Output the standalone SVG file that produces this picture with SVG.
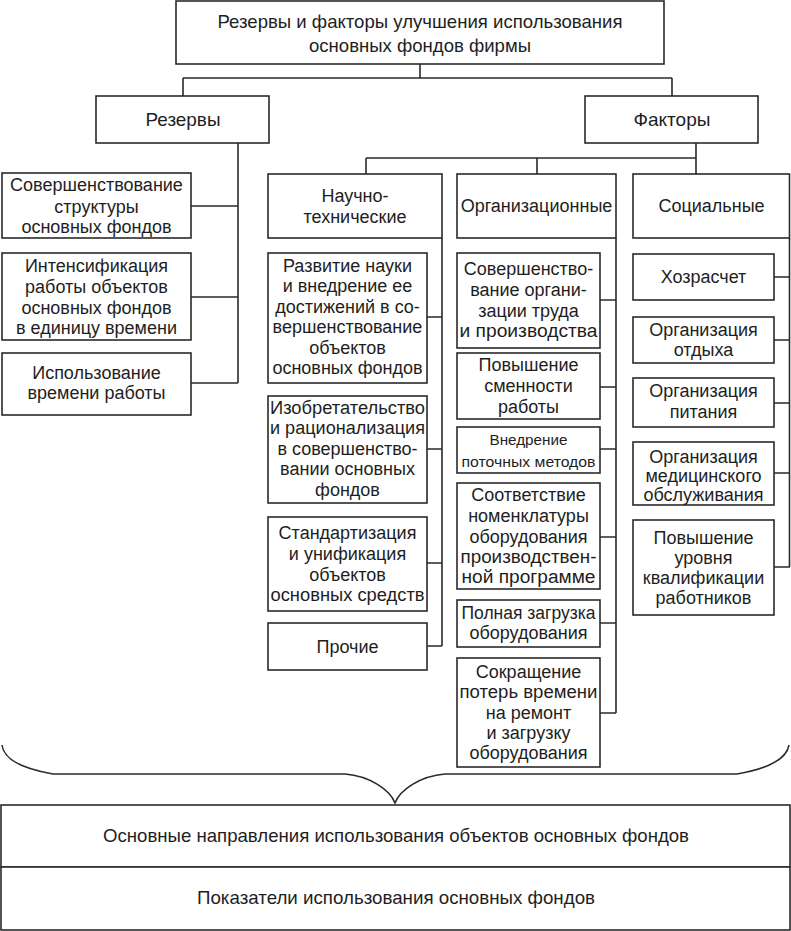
<svg xmlns="http://www.w3.org/2000/svg" width="791" height="931" viewBox="0 0 791 931">
<style>
.b{fill:#fff;stroke:#2a2a2a;stroke-width:1.6}
.l{fill:none;stroke:#2a2a2a;stroke-width:1.6}
text{font-family:"Liberation Sans",Arial,sans-serif;fill:#1e1e1e;text-anchor:middle}
.n{font-size:19px}
.t{font-size:18px}
.s{font-size:15px}
</style>
<rect width="791" height="931" fill="#fff"/>
<g id="connectors">
<path class="l" d="M420,64V78M183,78H672M183,78V96M672,78V96"/>
<path class="l" d="M238,143V383M191,206H238M191,297H238M191,383H238"/>
<path class="l" d="M696,143V158M366,158H696M366,158V174M537,158V174M696,158V174"/>
<path class="l" d="M442,238V646M427,317H442M427,449H442M427,563H442M427,646H442"/>
<path class="l" d="M616,238V713M600,300H616M600,387H616M600,449H616M600,537H616M600,623H616M600,713H616"/>
<path class="l" d="M789.5,238V567M774,277H790M774,340H790M774,403H790M774,473H790M774,567H790"/>
<path class="l" d="M2,745C4,762 30,770 53,774H345C370,776 390,790 395,803C400,790 420,776 445,774H737C760,770 786,762 789,745"/>
</g>
<g id="top"><rect class="b" x="176" y="1" width="488" height="63"/>
<text class="n" x="420" y="28" textLength="405" lengthAdjust="spacingAndGlyphs">Резервы и факторы улучшения использования</text>
<text class="n" x="420" y="52" textLength="222" lengthAdjust="spacingAndGlyphs">основных фондов фирмы</text></g>
<g id="rezervy"><rect class="b" x="96" y="96" width="173" height="47"/>
<text class="n" x="183" y="126" textLength="75" lengthAdjust="spacingAndGlyphs">Резервы</text></g>
<g id="faktory"><rect class="b" x="585" y="96" width="173" height="47"/>
<text class="n" x="672" y="126" textLength="77" lengthAdjust="spacingAndGlyphs">Факторы</text></g>

<g id="r1"><rect class="b" x="2" y="173" width="189" height="65"/>
<text class="t" x="96.5" y="191">Совершенствование</text><text class="t" x="96.5" y="213">структуры</text><text class="t" x="96.5" y="233">основных фондов</text></g>
<g id="r2"><rect class="b" x="2" y="253" width="189" height="87"/>
<text class="t" x="96.5" y="272">Интенсификация</text><text class="t" x="96.5" y="293">работы объектов</text><text class="t" x="96.5" y="314">основных фондов</text><text class="t" x="96.5" y="334">в единицу времени</text></g>
<g id="r3"><rect class="b" x="2" y="353" width="189" height="62"/>
<text class="t" x="96.5" y="379">Использование</text><text class="t" x="96.5" y="399">времени работы</text></g>

<g id="nt"><rect class="b" x="268" y="174" width="174" height="64"/>
<text class="t" x="355" y="202">Научно-</text><text class="t" x="355" y="223">технические</text></g>
<g id="n1"><rect class="b" x="268" y="253" width="159" height="130"/>
<text class="t" x="347.5" y="272">Развитие науки</text><text class="t" x="347.5" y="292">и внедрение ее</text><text class="t" x="347.5" y="313">достижений в со-</text><text class="t" x="347.5" y="333">вершенствование</text><text class="t" x="347.5" y="354">объектов</text><text class="t" x="347.5" y="374">основных фондов</text></g>
<g id="n2"><rect class="b" x="268" y="396" width="159" height="107"/>
<text class="t" x="347.5" y="414" textLength="155" lengthAdjust="spacingAndGlyphs">Изобретательство</text><text class="t" x="347.5" y="434" textLength="155" lengthAdjust="spacingAndGlyphs">и рационализация</text><text class="t" x="347.5" y="455">в совершенство-</text><text class="t" x="347.5" y="475">вании основных</text><text class="t" x="347.5" y="496">фондов</text></g>
<g id="n3"><rect class="b" x="268" y="517" width="159" height="94"/>
<text class="t" x="347.5" y="539">Стандартизация</text><text class="t" x="347.5" y="560">и унификация</text><text class="t" x="347.5" y="581">объектов</text><text class="t" x="347.5" y="601" textLength="154" lengthAdjust="spacingAndGlyphs">основных средств</text></g>
<g id="n4"><rect class="b" x="268" y="623" width="159" height="47"/>
<text class="t" x="347.5" y="653">Прочие</text></g>

<g id="org"><rect class="b" x="457" y="174" width="159" height="64"/>
<text class="t" x="536.5" y="212">Организационные</text></g>
<g id="o1"><rect class="b" x="457" y="253" width="143" height="95"/>
<text class="t" x="528.5" y="275">Совершенство-</text><text class="t" x="528.5" y="296">вание органи-</text><text class="t" x="528.5" y="317">зации труда</text><text class="t" x="528.5" y="337" textLength="138" lengthAdjust="spacingAndGlyphs">и производства</text></g>
<g id="o2"><rect class="b" x="457" y="353" width="143" height="66"/>
<text class="t" x="528.5" y="371">Повышение</text><text class="t" x="528.5" y="392">сменности</text><text class="t" x="528.5" y="413">работы</text></g>
<g id="o3"><rect class="b" x="457" y="427" width="143" height="46"/>
<text class="s" x="528.5" y="445" textLength="78" lengthAdjust="spacingAndGlyphs">Внедрение</text><text class="s" x="528.5" y="467" textLength="134" lengthAdjust="spacingAndGlyphs">поточных методов</text></g>
<g id="o4"><rect class="b" x="457" y="483" width="143" height="106"/>
<text class="t" x="528.5" y="501">Соответствие</text><text class="t" x="528.5" y="522">номенклатуры</text><text class="t" x="528.5" y="543">оборудования</text><text class="t" x="528.5" y="563" textLength="136" lengthAdjust="spacingAndGlyphs">производствен-</text><text class="t" x="528.5" y="583" textLength="134" lengthAdjust="spacingAndGlyphs">ной программе</text></g>
<g id="o5"><rect class="b" x="457" y="600" width="143" height="47"/>
<text class="t" x="528.5" y="619" textLength="134" lengthAdjust="spacingAndGlyphs">Полная загрузка</text><text class="t" x="528.5" y="639">оборудования</text></g>
<g id="o6"><rect class="b" x="457" y="658" width="143" height="109"/>
<text class="t" x="528.5" y="678">Сокращение</text><text class="t" x="528.5" y="698" textLength="138" lengthAdjust="spacingAndGlyphs">потерь времени</text><text class="t" x="528.5" y="719">на ремонт</text><text class="t" x="528.5" y="739">и загрузку</text><text class="t" x="528.5" y="759">оборудования</text></g>

<g id="soc"><rect class="b" x="633" y="174" width="156.5" height="64"/>
<text class="t" x="711.5" y="212">Социальные</text></g>
<g id="s1"><rect class="b" x="633" y="254" width="141" height="46"/>
<text class="t" x="703.5" y="283">Хозрасчет</text></g>
<g id="s2"><rect class="b" x="633" y="317" width="141" height="46"/>
<text class="t" x="703.5" y="336">Организация</text><text class="t" x="703.5" y="356">отдыха</text></g>
<g id="s3"><rect class="b" x="633" y="378" width="141" height="49"/>
<text class="t" x="703.5" y="397">Организация</text><text class="t" x="703.5" y="418">питания</text></g>
<g id="s4"><rect class="b" x="633" y="442" width="141" height="63"/>
<text class="t" x="703.5" y="463">Организация</text><text class="t" x="703.5" y="482">медицинского</text><text class="t" x="703.5" y="501">обслуживания</text></g>
<g id="s5"><rect class="b" x="633" y="520" width="141" height="95"/>
<text class="t" x="703.5" y="544">Повышение</text><text class="t" x="703.5" y="564">уровня</text><text class="t" x="703.5" y="584">квалификации</text><text class="t" x="703.5" y="604">работников</text></g>

<g id="bottom1"><rect class="b" x="1" y="805" width="789" height="62"/>
<text class="n" x="396" y="842" textLength="586" lengthAdjust="spacingAndGlyphs">Основные направления использования объектов основных фондов</text></g>
<g id="bottom2"><rect class="b" x="1" y="867" width="789" height="63"/>
<text class="n" x="396" y="904" textLength="398" lengthAdjust="spacingAndGlyphs">Показатели использования основных фондов</text></g>
</svg>
